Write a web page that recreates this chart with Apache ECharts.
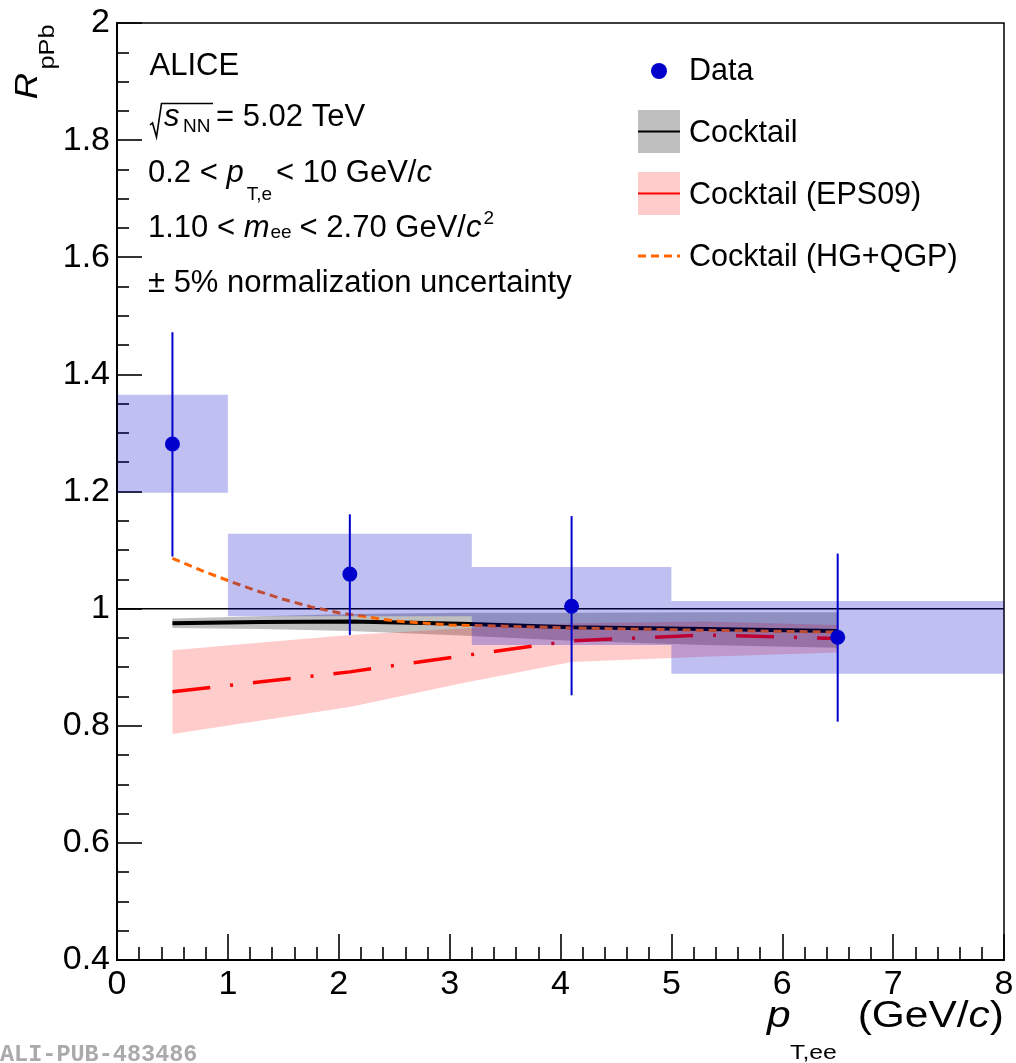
<!DOCTYPE html>
<html><head><meta charset="utf-8">
<script src="https://cdn.jsdelivr.net/npm/echarts@6/dist/echarts.min.js"></script>
<style>html,body{margin:0;padding:0;background:#fff}#c{width:1016px;height:1063px}</style>
</head><body><div id="c"></div><script>
// ---- data points (ALICE) ----
const dataX = [0.5, 2.1, 4.1, 6.5];
const dataY = [1.281, 1.059, 1.004, 0.951];
const statHigh = [1.472, 1.161, 1.158, 1.094];
const statLow = [1.089, 0.955, 0.852, 0.807];
const sysXLow = [0, 1, 3.2, 5];
const sysXHigh = [1, 3.2, 5, 8];
const sysHigh = [1.365, 1.128, 1.071, 1.013];
const sysLow = [1.198, 0.987, 0.938, 0.889];

// ---- cocktail models ----
const modelX = [0.5, 1.3, 2.1, 3.1, 4.1, 5.3, 6.5];
const cocktail = [0.975, 0.977, 0.978, 0.974, 0.968, 0.965, 0.962];
const cocktailHigh = [0.983, 0.987, 0.991, 0.993, 0.993, 0.994, 0.994];
const cocktailLow = [0.967, 0.965, 0.962, 0.954, 0.945, 0.938, 0.933];
const eps09 = [0.858, 0.875, 0.892, 0.919, 0.945, 0.955, 0.949];
const eps09High = [0.929, 0.942, 0.955, 0.966, 0.975, 0.978, 0.972];
const eps09Low = [0.786, 0.809, 0.832, 0.872, 0.909, 0.918, 0.925];

const hgX = [0.5, 0.75, 1.0, 1.25, 1.5, 1.75, 2.0, 2.5, 3.0, 3.5, 4.1, 5.3, 6.5];
const hgQgp = [1.086, 1.066, 1.048, 1.031, 1.016, 1.003, 0.993, 0.979, 0.972, 0.970, 0.967, 0.963, 0.960];

const unityX = [0, 8];
const unityY = [1, 1];

// ---- tick labels ----
const xTickLabels = ['0', '1', '2', '3', '4', '5', '6', '7', '8'];
const yTickLabels = ['0.4', '0.6', '0.8', '1', '1.2', '1.4', '1.6', '1.8', '2'];

const FONT = '"Liberation Sans", Arial, Helvetica, sans-serif';
const BLUE = '#0000cc';

function pairs(xs, ys) { return xs.map((x, i) => [x, ys[i]]); }

function band(name, xs, lo, hi, color, z) {
  return {
    type: 'custom', name: name, z: z, silent: true,
    data: [[xs[0], lo[0]]],
    renderItem: function (params, api) {
      const pts = [];
      for (let i = 0; i < xs.length; i++) pts.push(api.coord([xs[i], hi[i]]));
      for (let i = xs.length - 1; i >= 0; i--) pts.push(api.coord([xs[i], lo[i]]));
      return { type: 'polygon', shape: { points: pts }, style: { fill: color } };
    }
  };
}

const chart = echarts.init(document.getElementById('c'), null, { renderer: 'canvas' });

const txt = (x, y, text, size, extra, el) => Object.assign({
  type: 'text', x: x, y: y, silent: true,
  style: Object.assign({
    text: text, fill: '#000', fontSize: size, fontFamily: FONT,
    textAlign: 'left', textVerticalAlign: 'middle'
  }, extra || {})
}, el || {});

const A = 31;   // annotation font size
const S = 19;   // annotation sub/superscript size
const rich = {
  n: { fontSize: A, fontFamily: FONT, color: '#000' },
  i: { fontSize: A, fontFamily: FONT, fontStyle: 'italic', color: '#000' },
  pte: { fontSize: S, fontFamily: FONT, color: '#000', padding: [44, 4, 0, 3] },
  ee: { fontSize: S, fontFamily: FONT, color: '#000', padding: [9, 8, 0, 1] },
  sup: { fontSize: S, fontFamily: FONT, color: '#000', padding: [0, 0, 18, 2] }
};

const graphics = [
  // annotations
  txt(149.5, 66, 'ALICE', A),
  { type: 'polyline', silent: true, shape: { points: [[150, 125], [152.5, 123], [156.5, 137], [161.5, 103.5], [213, 103.5]] },
    style: { stroke: '#000', lineWidth: 1.6, fill: null } },
  txt(164, 117, 's', A, { fontStyle: 'italic' }),
  txt(183, 127, 'NN', S),
  txt(216, 117, '= 5.02 TeV', A),
  txt(148, 173, '{n|0.2 < }{i|p}{pte|T,e}{n|< 10 GeV/}{i|c}', A, { rich: rich }),
  txt(148, 228, '{n|1.10 < }{i|m}{ee|ee}{n|< 2.70 GeV/}{i|c}{sup|2}', A, { rich: rich }),
  txt(148, 283, '\u00b1 5% normalization uncertainty', A),

  // legend
  { type: 'circle', silent: true, shape: { cx: 659, cy: 71, r: 8 }, style: { fill: BLUE } },
  txt(689, 72, 'Data', 30.5),
  { type: 'rect', silent: true, shape: { x: 638, y: 110, width: 42, height: 43 }, style: { fill: 'rgba(0,0,0,0.25)' } },
  { type: 'line', silent: true, shape: { x1: 638, y1: 131.5, x2: 680, y2: 131.5 }, style: { stroke: '#000', lineWidth: 2 } },
  txt(689, 134, 'Cocktail', 30.5),
  { type: 'rect', silent: true, shape: { x: 638, y: 172, width: 42, height: 43 }, style: { fill: 'rgba(255,0,0,0.2)' } },
  { type: 'line', silent: true, shape: { x1: 638, y1: 193.5, x2: 680, y2: 193.5 }, style: { stroke: '#ff0000', lineWidth: 2 } },
  txt(689, 196, 'Cocktail (EPS09)', 30.5),
  { type: 'line', silent: true, shape: { x1: 638, y1: 256, x2: 680, y2: 256 }, style: { stroke: '#ff6600', lineWidth: 3, lineDash: [8, 5] } },
  txt(689, 258, 'Cocktail (HG+QGP)', 30.5),

  // axis titles
  txt(767, 1017, 'p', 36, { fontStyle: 'italic' }, { scaleX: 1.18 }),
  txt(790, 1053, 'T,ee', 21, {}, { scaleX: 1.18 }),
  txt(1004, 1017, '{a|(GeV/}{b|c}{a|)}', 36, {
    textAlign: 'right',
    rich: { a: { fontSize: 36, fontFamily: FONT, color: '#000' },
            b: { fontSize: 36, fontFamily: FONT, fontStyle: 'italic', color: '#000' } }
  }, { scaleX: 1.18 }),
  txt(28, 86, 'R', 31, { fontStyle: 'italic', textAlign: 'center' }, { rotation: Math.PI / 2, scaleX: 1.18 }),
  txt(48, 47, 'pPb', 21.5, { textAlign: 'center' }, { rotation: Math.PI / 2, scaleX: 1.18 }),

  // watermark
  txt(0, 1055, 'ALI-PUB-483486', 23.5, { fontFamily: '"Liberation Mono", "DejaVu Sans Mono", monospace', fontWeight: 'bold', fill: '#aaaaaa' })
];

const option = {
  animation: false,
  backgroundColor: '#fff',
  grid: { left: 117, top: 23, width: 887, height: 937, show: true, borderColor: '#000', borderWidth: 1.5,
          containLabel: false, outerBoundsMode: 'none' },
  xAxis: {
    type: 'value', min: 0, max: 8, interval: 1,
    axisLine: { show: true, onZero: false, lineStyle: { color: '#000', width: 2 } },
    axisTick: { show: true, inside: true, length: 26, lineStyle: { color: '#000', width: 1.6 } },
    minorTick: { show: true, splitNumber: 5, length: 13, lineStyle: { color: '#000', width: 1.6 } },
    splitLine: { show: false }, minorSplitLine: { show: false },
    axisLabel: { show: true, fontSize: 34, color: '#000', fontFamily: FONT, margin: 8,
                 showMinLabel: true, showMaxLabel: true,
                 formatter: v => xTickLabels[Math.round(v)] }
  },
  yAxis: {
    type: 'value', min: 0.4, max: 2, interval: 0.2,
    axisLine: { show: true, onZero: false, lineStyle: { color: '#000', width: 2 } },
    axisTick: { show: true, inside: true, length: 25, lineStyle: { color: '#000', width: 1.6 } },
    minorTick: { show: true, splitNumber: 4, length: 12, lineStyle: { color: '#000', width: 1.6 } },
    splitLine: { show: false }, minorSplitLine: { show: false },
    axisLabel: { show: true, fontSize: 34, color: '#000', fontFamily: FONT, margin: 7,
                 showMinLabel: true, showMaxLabel: true,
                 formatter: v => yTickLabels[Math.round((v - 0.4) / 0.2)] }
  },
  graphic: graphics,
  series: [
    { type: 'line', name: 'unity', z: 1, silent: true, data: pairs(unityX, unityY), symbol: 'none',
      lineStyle: { color: '#000', width: 1.5 } },
    band('Cocktail band', modelX, cocktailLow, cocktailHigh, 'rgba(0,0,0,0.25)', 2),
    band('EPS09 band', modelX, eps09Low, eps09High, 'rgba(255,0,0,0.2)', 2),
    { type: 'line', name: 'Cocktail (EPS09)', z: 3, silent: true, data: pairs(modelX, eps09), symbol: 'none',
      lineStyle: { color: '#ff0000', width: 3.5, type: [38, 20, 3, 20] } },
    { type: 'line', name: 'Cocktail', z: 3, silent: true, data: pairs(modelX, cocktail), symbol: 'none',
      lineStyle: { color: '#000', width: 4 } },
    { type: 'line', name: 'Cocktail (HG+QGP)', z: 3, silent: true, data: pairs(hgX, hgQgp), symbol: 'none',
      lineStyle: { color: '#ff6600', width: 3, type: [8, 5] } },
    { type: 'custom', name: 'sys', z: 4, silent: true,
      data: sysXLow.map((x, i) => [x, sysXHigh[i], sysLow[i], sysHigh[i]]),
      encode: { x: [0, 1], y: [2, 3] },
      renderItem: function (params, api) {
        const p1 = api.coord([api.value(0), api.value(3)]);
        const p2 = api.coord([api.value(1), api.value(2)]);
        return { type: 'rect', shape: { x: p1[0], y: p1[1], width: p2[0] - p1[0], height: p2[1] - p1[1] },
                 style: { fill: 'rgba(0,0,204,0.25)' } };
      } },
    { type: 'custom', name: 'stat', z: 5, silent: true,
      data: dataX.map((x, i) => [x, statLow[i], statHigh[i]]),
      encode: { x: 0, y: [1, 2] },
      renderItem: function (params, api) {
        const a = api.coord([api.value(0), api.value(1)]);
        const b = api.coord([api.value(0), api.value(2)]);
        return { type: 'line', shape: { x1: a[0], y1: a[1], x2: b[0], y2: b[1] },
                 style: { stroke: BLUE, lineWidth: 2 } };
      } },
    { type: 'scatter', name: 'Data', z: 6, silent: true, data: pairs(dataX, dataY),
      symbol: 'circle', symbolSize: 15, itemStyle: { color: BLUE, opacity: 1 } }
  ]
};
chart.setOption(option);
</script></body></html>
